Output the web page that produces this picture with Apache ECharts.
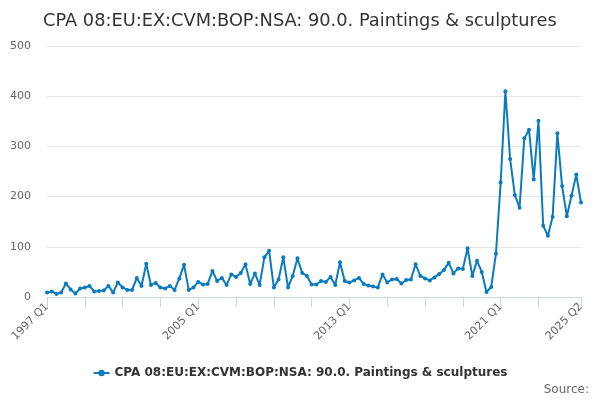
<!DOCTYPE html>
<html>
<head>
<meta charset="utf-8">
<script src="https://cdn.jsdelivr.net/npm/echarts@6/dist/echarts.min.js"></script>
<style>
  html, body { margin: 0; padding: 0; background: #fff; }
  #chart { width: 600px; height: 400px; }
</style>
</head>
<body>
<div id="chart"></div>
<script>
// ─── 数据: 1997 Q1 .. 2025 Q2 季度值 ───
const startYear = 1997;
const quarterCount = 114;
const seriesName = 'CPA 08:EU:EX:CVM:BOP:NSA: 90.0. Paintings & sculptures';

const values = [
  9, 11, 6, 9, 27, 15, 7, 17, 19, 22, 11, 12, 13, 22, 9, 29,
  19, 14, 14, 38, 22, 66, 24, 28, 19, 17, 22, 14, 37, 64, 14, 19,
  30, 25, 26, 52, 32, 38, 24, 45, 40, 48, 65, 26, 47, 24, 79, 92,
  19, 35, 79, 19, 42, 77, 48, 42, 25, 25, 32, 30, 40, 24, 69, 32,
  29, 33, 38, 26, 23, 21, 19, 45, 29, 35, 36, 27, 34, 35, 65, 42,
  37, 33, 39, 46, 54, 68, 47, 57, 56, 97, 42, 72, 50, 10, 20, 86,
  228, 410, 275, 203, 178, 316, 333, 234, 351, 142, 122, 160, 326, 221, 161, 202,
  244, 188
];

const categories = [];
for (let i = 0; i < quarterCount; i++) {
  categories.push((startYear + Math.floor(i / 4)) + ' Q' + (i % 4 + 1));
}

const lastIdx = quarterCount - 1;
const showLabel = (i) => i % 32 === 0 || i === lastIdx;
const showTick = (i) => (i % 8 === 0 && i !== lastIdx - 1) || i === lastIdx;

const chart = echarts.init(document.getElementById('chart'));
chart.setOption({
  animation: false,
  color: ['#0b7bc0'],
  textStyle: { fontFamily: 'DejaVu Sans, sans-serif' },
  title: {
    text: seriesName,
    left: 38, top: 7,
    textStyle: { color: '#333', fontSize: 17.8, fontWeight: 'normal' }
  },
  grid: { left: 47, right: 19, top: 46, bottom: 103 },
  xAxis: {
    type: 'category',
    data: categories,
    boundaryGap: false,
    axisLine: { lineStyle: { color: '#ccd6eb' } },
    axisTick: { interval: showTick, length: 10, lineStyle: { color: '#ccd6eb' } },
    axisLabel: { interval: showLabel, rotate: 45, color: '#666', fontSize: 11, margin: 8 },
    splitLine: { show: false }
  },
  yAxis: {
    type: 'value',
    min: 0, max: 500, interval: 100,
    axisLine: { show: false },
    axisTick: { show: false },
    axisLabel: { color: '#666', fontSize: 11, margin: 16 },
    splitLine: { lineStyle: { color: '#e6e6e6' } }
  },
  legend: {
    bottom: 16, left: 'center',
    itemWidth: 16, itemHeight: 8, itemGap: 6,
    textStyle: { color: '#333', fontSize: 12, fontWeight: 'bold' }
  },
  graphic: [{
    type: 'text',
    right: 11, top: 384,
    style: { text: 'Source:', fill: '#666', fontSize: 12, fontFamily: 'DejaVu Sans, sans-serif' }
  }],
  series: [{
    name: seriesName,
    type: 'line',
    data: values,
    symbol: 'circle',
    symbolSize: 4,
    showAllSymbol: true,
    lineStyle: { width: 2 }
  }]
});
</script>
</body>
</html>
